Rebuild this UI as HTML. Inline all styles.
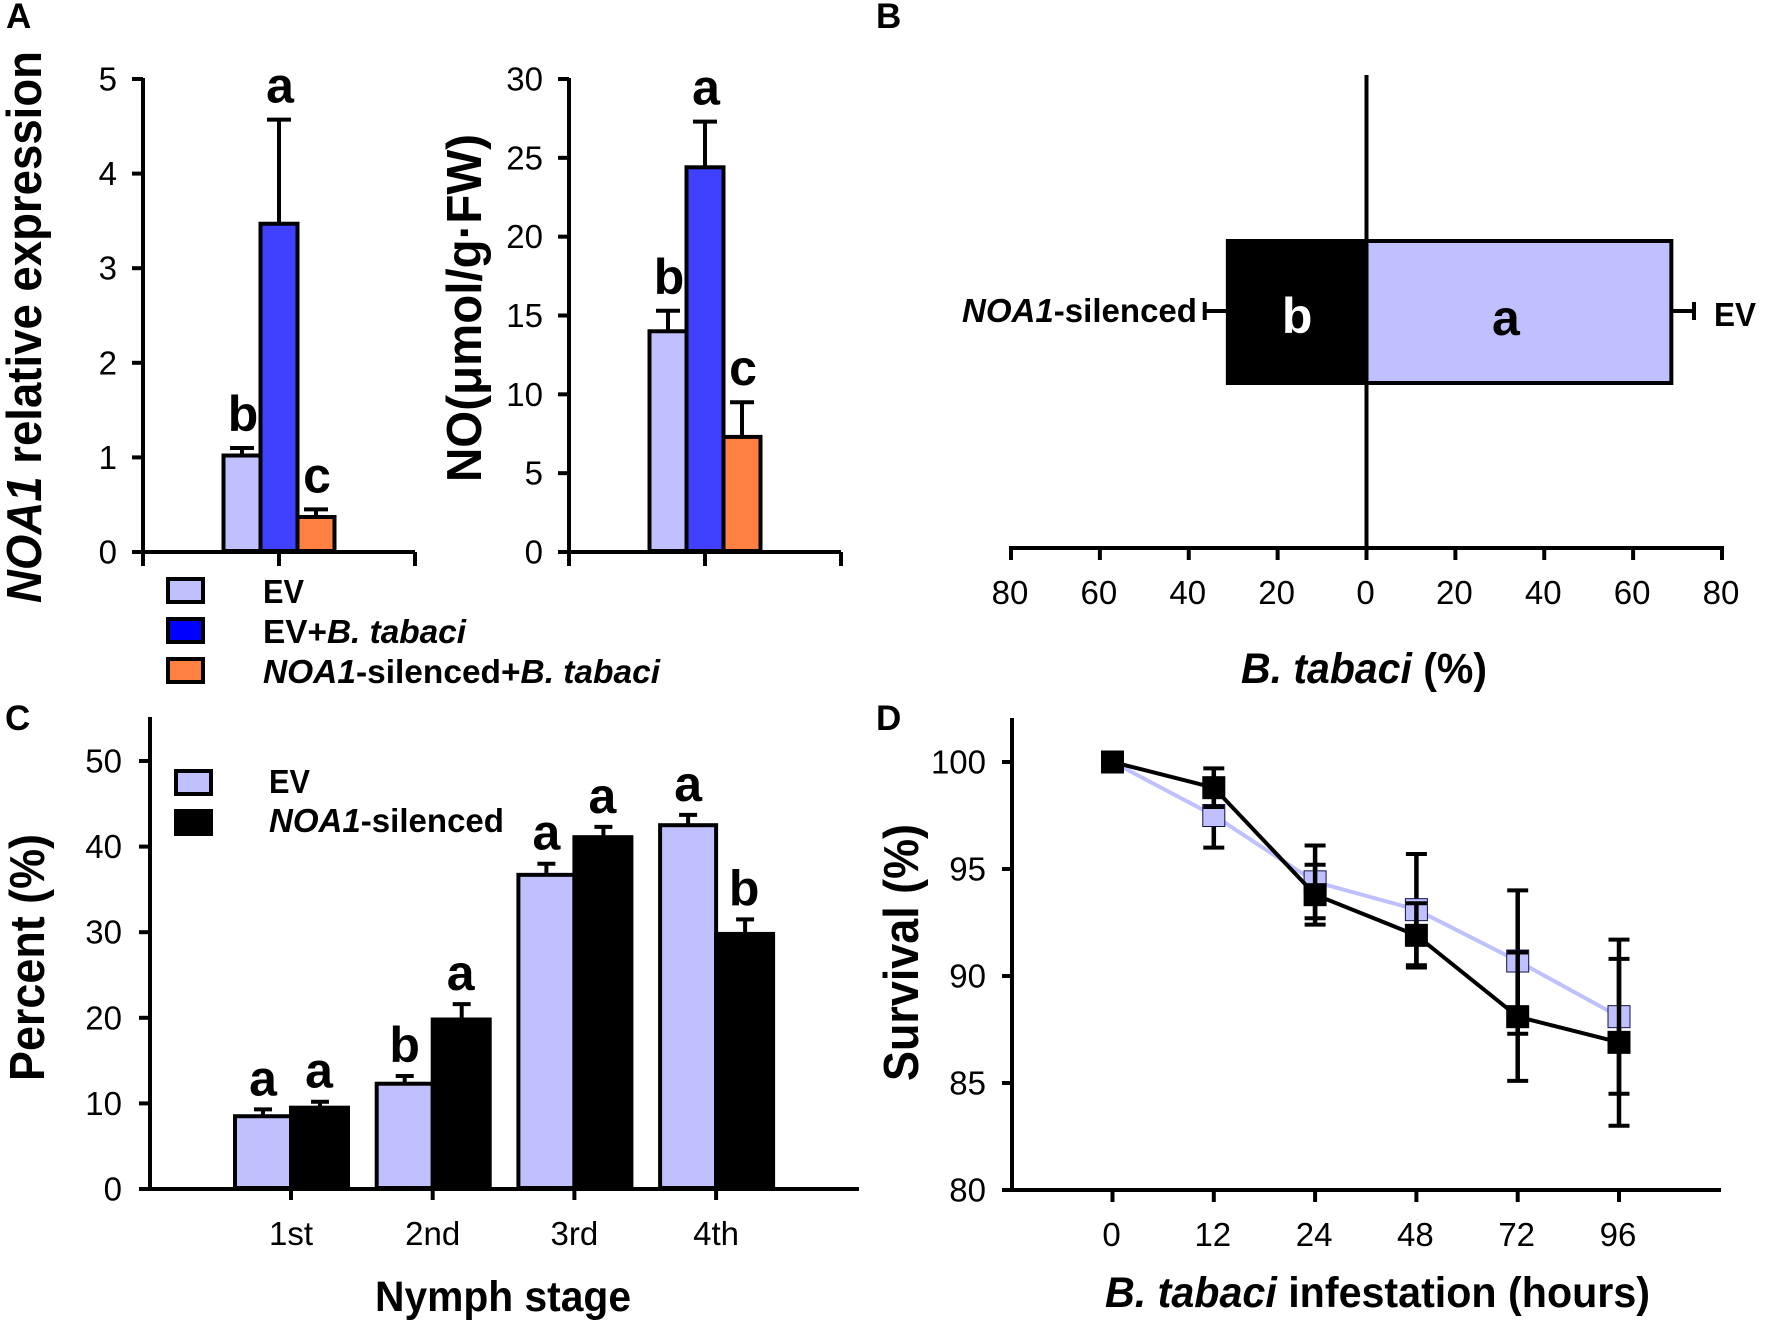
<!DOCTYPE html>
<html lang="en">
<head>
<meta charset="utf-8">
<title>NOA1 silencing and B. tabaci performance</title>
<style>
html,body{margin:0;padding:0;background:#fff;width:1765px;height:1326px;overflow:hidden}
svg{display:block}
text{font-family:"Liberation Sans",Arial,sans-serif}
.i{font-style:italic}
.panel{font-weight:bold;font-size:35px}
.title{font-weight:bold;font-size:43px}
.vtitle{font-weight:bold;font-size:49px}
.leg{font-weight:bold;font-size:33px}
</style>
</head>
<body>
<svg id="figure" xmlns="http://www.w3.org/2000/svg" width="1765" height="1326" viewBox="0 0 1765 1326">
  <rect x="0" y="0" width="1765" height="1326" fill="#fff"/>

  <text class="panel" x="6" y="28">A</text>
  <text class="panel" x="876" y="28">B</text>
  <text class="panel" x="5" y="730">C</text>
  <text class="panel" x="876" y="730">D</text>

  <text class="vtitle" transform="translate(41,603) rotate(-90)" textLength="552" lengthAdjust="spacingAndGlyphs"><tspan class="i">NOA1</tspan> relative expression</text>
  <text class="vtitle" transform="translate(481,482) rotate(-90)" textLength="348" lengthAdjust="spacingAndGlyphs">NO(μmol/g·FW)</text>

  <g>
    <rect x="168" y="579" width="35" height="23" fill="#c0c0ff" stroke="#000" stroke-width="4"/>
    <rect x="168" y="619" width="35" height="23" fill="#0000ff" stroke="#000" stroke-width="4"/>
    <rect x="168" y="659" width="35" height="23" fill="#ff8040" stroke="#000" stroke-width="4"/>
    <text class="leg" x="263" y="603" textLength="41" lengthAdjust="spacingAndGlyphs">EV</text>
    <text class="leg" x="263" y="643" textLength="203" lengthAdjust="spacingAndGlyphs">EV+<tspan class="i">B. tabaci</tspan></text>
    <text class="leg" x="263" y="683" textLength="397" lengthAdjust="spacingAndGlyphs"><tspan class="i">NOA1</tspan>-silenced+<tspan class="i">B. tabaci</tspan></text>
  </g>

  <text class="leg" x="962" y="322" textLength="235" lengthAdjust="spacingAndGlyphs"><tspan class="i">NOA1</tspan>-silenced</text>
  <text class="leg" x="1714" y="326" textLength="42" lengthAdjust="spacingAndGlyphs">EV</text>
  <text class="title" x="1241" y="683" textLength="246" lengthAdjust="spacingAndGlyphs"><tspan class="i">B. tabaci</tspan> (%)</text>

  <text class="vtitle" transform="translate(44,1081) rotate(-90)" textLength="247" lengthAdjust="spacingAndGlyphs">Percent (%)</text>
  <text class="title" x="375" y="1311" textLength="256" lengthAdjust="spacingAndGlyphs">Nymph stage</text>
  <g>
    <rect x="176" y="771" width="35" height="23" fill="#c0c0ff" stroke="#000" stroke-width="4"/>
    <rect x="176" y="811" width="35" height="23" fill="#000" stroke="#000" stroke-width="4"/>
    <text class="leg" x="269" y="793" textLength="41" lengthAdjust="spacingAndGlyphs">EV</text>
    <text class="leg" x="269" y="832" textLength="235" lengthAdjust="spacingAndGlyphs"><tspan class="i">NOA1</tspan>-silenced</text>
  </g>

  <text class="vtitle" transform="translate(918,1081) rotate(-90)" textLength="257" lengthAdjust="spacingAndGlyphs">Survival (%)</text>
  <text class="title" x="1105" y="1307" textLength="545" lengthAdjust="spacingAndGlyphs"><tspan class="i">B. tabaci</tspan> infestation (hours)</text>
</svg>

<script>
// Panel A, left chart: NOA1 relative expression
const a1Ticks = [0, 1, 2, 3, 4, 5];
const a1Values = [1.02, 3.47, 0.37];
const a1ErrorTops = [1.10, 4.57, 0.45];
const a1Letters = ['b', 'a', 'c'];
// Panel A, right chart: NO content
const a2Ticks = [0, 5, 10, 15, 20, 25, 30];
const a2Values = [14.0, 24.4, 7.3];
const a2ErrorTops = [15.3, 27.3, 9.5];
const a2Letters = ['b', 'a', 'c'];
// Panel B: choice test
const bTicks = [-80, -60, -40, -20, 0, 20, 40, 60, 80];
const bEvValue = 68.6;
const bEvError = 73.7;
const bSilencedValue = 31.2;
const bSilencedError = 36.4;
const bLetters = ['b', 'a'];
// Panel C: nymph stage
const cTicks = [0, 10, 20, 30, 40, 50];
const cCategories = ['1st', '2nd', '3rd', '4th'];
const cEvValues = [8.5, 12.3, 36.7, 42.5];
const cEvErrorTops = [9.3, 13.2, 38.0, 43.7];
const cEvLetters = ['a', 'b', 'a', 'a'];
const cSilencedValues = [9.5, 19.8, 41.1, 29.8];
const cSilencedErrorTops = [10.2, 21.6, 42.3, 31.5];
const cSilencedLetters = ['a', 'a', 'a', 'b'];
// Panel D: survival
const dTicks = [80, 85, 90, 95, 100];
const dCategories = ['0', '12', '24', '48', '72', '96'];
const dEvValues = [100, 97.5, 94.4, 93.1, 90.7, 88.1];
const dEvUpper = [100, 99.1, 96.1, 95.7, 94.0, 91.7];
const dEvLower = [100, 96.0, 92.7, 90.5, 87.3, 84.5];
const dSilencedValues = [100, 98.8, 93.8, 91.9, 88.1, 86.9];
const dSilencedUpper = [100, 99.7, 95.2, 93.4, 91.1, 90.8];
const dSilencedLower = [100, 97.9, 92.4, 90.4, 85.1, 83.0];

const COL_LIGHT = '#c0c0ff';
const COL_BLUE = '#4040ff';
const COL_ORANGE = '#ff8040';
const TICK_FONT = 33;
const LETTER_FONT = 50;
const AXIS_W = 4;
const svg = document.getElementById('figure');
const NS = 'http://www.w3.org/2000/svg';

function make(tag, attrs, parent) {
  const el = document.createElementNS(NS, tag);
  Object.keys(attrs).forEach(function (k) { el.setAttribute(k, attrs[k]); });
  (parent || svg).appendChild(el);
  return el;
}
function line(x1, y1, x2, y2, w, name, parent) {
  const el = make('line', { x1: x1, y1: y1, x2: x2, y2: y2, stroke: '#000', 'stroke-width': w }, parent);
  
  
  return el;
}
function label(x, y, str, size, anchor, name, parent, fill, bold) {
  const el = make('text', { x: x, y: y, 'font-size': size, 'text-anchor': anchor, fill: fill || '#000', 'font-weight': bold ? 'bold' : 'normal' }, parent);
  el.textContent = str;
  
  
  return el;
}
function group(name) {
  const g = make('g', {});
  
  
  return g;
}
function linear(d0, d1, r0, r1) {
  return function (v) { return r0 + (v - d0) * (r1 - r0) / (d1 - d0); };
}
function bar(x0, x1, yTop, yBase, fill, name, parent) {
  const el = make('rect', { x: Math.min(x0, x1), y: yTop, width: Math.abs(x1 - x0), height: yBase - yTop, fill: fill, stroke: '#000', 'stroke-width': AXIS_W }, parent);
  
  
  return el;
}
function yTicks(ticks, y, xAxis, len, labelRight, parent) {
  ticks.forEach(function (t) {
    line(xAxis - len, y(t), xAxis, y(t), AXIS_W, 'y-tick', parent);
    label(labelRight, y(t) + 11.5, String(t), TICK_FONT, 'end', 'y-tick-label', parent);
  });
}

// ---------- Panel A ----------
function drawA(prefix, ticks, values, tops, letters, axisX, centerX, labelRight, maxV) {
  const g = group(prefix + '-chart');
  const y = linear(0, maxV, 552, 79);
  const step = 37;
  const fills = [COL_LIGHT, COL_BLUE, COL_ORANGE];
  values.forEach(function (v, i) {
    const cx = centerX + (i - 1) * step;
    line(cx, y(tops[i]), cx, y(v), 4, prefix + '-error-stem', g);
    line(cx - 12, y(tops[i]), cx + 12, y(tops[i]), AXIS_W, prefix + '-error-cap', g);
    bar(cx - step / 2, cx + step / 2, y(v), y(0) - 1, fills[i], prefix + '-bar', g);
    label(cx + 1, y(tops[i]) - 17, letters[i], LETTER_FONT, 'middle', prefix + '-significance-letter', g, '#000', true);
  });
  line(axisX, 78, axisX, 554, AXIS_W, prefix + '-y-axis', g);
  line(axisX - 1, y(0), axisX + 272, y(0), AXIS_W, prefix + '-x-axis', g);
  line(axisX, y(0), axisX, 566, AXIS_W, prefix + '-x-tick-left', g);
  line(centerX, y(0), centerX, 566, AXIS_W, prefix + '-x-tick-center', g);
  line(axisX + 272, y(0), axisX + 272, 566, AXIS_W, prefix + '-x-tick-right', g);
  yTicks(ticks, y, axisX, 11, labelRight, g);
}
drawA('a1', a1Ticks, a1Values, a1ErrorTops, a1Letters, 143, 279, 117, 5);
drawA('a2', a2Ticks, a2Values, a2ErrorTops, a2Letters, 569, 705, 543, 30);

// ---------- Panel B ----------
(function () {
  const g = group('b-chart');
  const x = linear(-80, 80, 1011, 1722);
  const top = 241, base = 383, mid = 311, axisY = 548;
  line(x(bEvValue), mid, x(bEvError), mid, 4, 'b-error-stem-ev', g);
  line(x(bEvError), mid - 9, x(bEvError), mid + 9, AXIS_W, 'b-error-cap-ev', g);
  line(x(-bSilencedValue), mid, x(-bSilencedError), mid, 4, 'b-error-stem-silenced', g);
  line(x(-bSilencedError), mid - 9, x(-bSilencedError), mid + 9, AXIS_W, 'b-error-cap-silenced', g);
  line(x(0), 75, x(0), axisY, AXIS_W, 'b-center-line', g);
  bar(x(0), x(bEvValue), top, base, COL_LIGHT, 'b-bar-ev', g);
  bar(x(-bSilencedValue), x(0), top, base, '#000', 'b-bar-silenced', g);
  label((x(0) + x(-bSilencedValue)) / 2, 333, bLetters[0], LETTER_FONT, 'middle', 'b-significance-letter', g, '#fff', true);
  label((x(0) + x(bEvValue)) / 2 - 13, 335, bLetters[1], LETTER_FONT, 'middle', 'b-significance-letter', g, '#000', true);
  line(x(-80) - 2, axisY, x(80) + 2, axisY, AXIS_W, 'b-x-axis', g);
  bTicks.forEach(function (t) {
    line(x(t), axisY, x(t), 560, AXIS_W, 'b-x-tick', g);
    label(x(t) - 1, 604, String(Math.abs(t)), TICK_FONT, 'middle', 'b-x-tick-label', g);
  });
})();

// ---------- Panel C ----------
(function () {
  const g = group('c-chart');
  const y = linear(0, 50, 1189, 761);
  const x = function (i) { return 291 + i * 141.7; };
  const w = 56;
  cCategories.forEach(function (c, i) {
    const cx = x(i);
    const evC = cx - w / 2, silC = cx + w / 2 + 1;
    line(evC, y(cEvErrorTops[i]), evC, y(cEvValues[i]), 4, 'c-error-stem-ev', g);
    line(evC - 9, y(cEvErrorTops[i]), evC + 9, y(cEvErrorTops[i]), AXIS_W, 'c-error-cap-ev', g);
    line(silC, y(cSilencedErrorTops[i]), silC, y(cSilencedValues[i]), 4, 'c-error-stem-silenced', g);
    line(silC - 9, y(cSilencedErrorTops[i]), silC + 9, y(cSilencedErrorTops[i]), AXIS_W, 'c-error-cap-silenced', g);
    bar(cx - w, cx, y(cEvValues[i]), y(0) - 1, COL_LIGHT, 'c-bar-ev', g);
    bar(cx, cx + w + 1, y(cSilencedValues[i]), y(0) - 1, '#000', 'c-bar-silenced', g);
    label(evC, y(cEvErrorTops[i]) - 14, cEvLetters[i], LETTER_FONT, 'middle', 'c-significance-letter', g, '#000', true);
    label(silC - 1, y(cSilencedErrorTops[i]) - 14, cSilencedLetters[i], LETTER_FONT, 'middle', 'c-significance-letter', g, '#000', true);
    line(cx, y(0), cx, 1200, AXIS_W, 'c-x-tick', g);
    label(cx, 1245, c, TICK_FONT, 'middle', 'c-x-tick-label', g);
  });
  line(150, 717, 150, y(0), AXIS_W, 'c-y-axis', g);
  line(139, y(0), 859, y(0), AXIS_W, 'c-x-axis', g);
  yTicks(cTicks, y, 150, 11, 122, g);
})();

// ---------- Panel D ----------
(function () {
  const g = group('d-chart');
  const y = linear(80, 100, 1190, 762);
  const x = function (i) { return 1112.5 + i * 101.3; };
  function series(name, values, upper, lower, lineColor, fill, stroke) {
    const pts = values.map(function (v, i) { return x(i) + ',' + y(v); }).join(' ');
    const path = make('polyline', { points: pts, fill: 'none', stroke: lineColor, 'stroke-width': 4 }, g);
    
    
    values.forEach(function (v, i) {
      line(x(i), y(upper[i]), x(i), y(lower[i]), 4.5, name + '-error-stem', g);
      line(x(i) - 10.5, y(upper[i]), x(i) + 10.5, y(upper[i]), AXIS_W, name + '-error-cap', g);
      line(x(i) - 10.5, y(lower[i]), x(i) + 10.5, y(lower[i]), AXIS_W, name + '-error-cap', g);
      const m = make('rect', { x: x(i) - 11, y: y(v) - 11, width: 22, height: 22, fill: fill, stroke: stroke, 'stroke-width': 1 }, g);
      
      
    });
  }
  series('d-ev', dEvValues, dEvUpper, dEvLower, COL_LIGHT, COL_LIGHT, '#10104a');
  series('d-silenced', dSilencedValues, dSilencedUpper, dSilencedLower, '#000', '#000', '#000');
  line(1012, 718, 1012, y(80), AXIS_W, 'd-y-axis', g);
  line(1002, y(80), 1721, y(80), AXIS_W, 'd-x-axis', g);
  dTicks.forEach(function (t) {
    line(1002, y(t), 1012, y(t), AXIS_W, 'd-y-tick', g);
    label(986, y(t) + 11.5, String(t), TICK_FONT, 'end', 'd-y-tick-label', g);
  });
  dCategories.forEach(function (c, i) {
    line(x(i), y(80), x(i), 1202, AXIS_W, 'd-x-tick', g);
    label(x(i) - 1, 1246, c, TICK_FONT, 'middle', 'd-x-tick-label', g);
  });
})();
</script>
</body>
</html>
